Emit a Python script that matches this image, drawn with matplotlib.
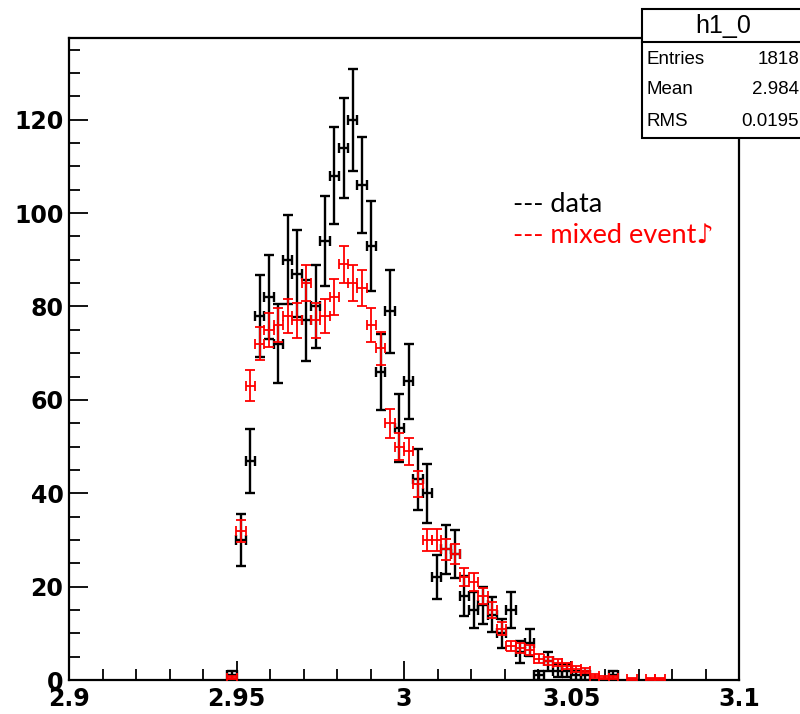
import matplotlib
matplotlib.use('Agg')
import matplotlib.pyplot as plt
import numpy as np
from matplotlib.patches import Rectangle
from matplotlib.lines import Line2D
from matplotlib.ticker import MultipleLocator

# histogram binning (72 bins on 2.9 - 3.1), first drawn bin is 17
x_lo, x_hi, nbins = 2.9, 3.1, 72
first_bin = 17

# data counts, bins 17..58
data_counts = [1, 30, 47, 78, 82, 72, 90, 87, 77, 80,
               94, 108, 114, 120, 106, 93, 66, 79, 54, 64,
               43, 40, 22, 28, 27, 18, 15, 16, 14, 10,
               15, 6, 8, 1, 4, 2, 2, 1, 1, 0,
               0, 1]

# mixed event (scaled), bins 17..63
mixed_vals = [0.5, 32, 63, 72, 75, 76, 78, 77, 85, 77,
              78, 82, 89, 85, 84, 76, 71, 55, 50, 49,
              42, 30, 30, 28, 27, 22, 21, 18, 15, 11,
              7.3, 6.8, 6.4, 4.6, 4.1, 3.7, 3.0, 2.4, 2.0, 0.9,
              0.5, 0.5, 0, 0.2, 0, 0.2, 0.2]
mixed_scale = 0.175

xtick_vals = [2.9, 2.95, 3.0, 3.05, 3.1]
xtick_labels = ['2.9', '2.95', '3', '3.05', '3.1']
ytick_vals = [0, 20, 40, 60, 80, 100, 120]

stats_title = 'h1_0'
stats_rows = [('Entries', '1818'), ('Mean', '2.984'), ('RMS', '0.0195')]

W, H = 800, 714
fig = plt.figure(figsize=(W/100, H/100), dpi=100)
ax = fig.add_axes([69/W, 1-680/H, (739-69)/W, (680-38)/H])

bw = (x_hi - x_lo) / nbins
def centers(n):
    idx = np.arange(first_bin, first_bin + n)
    return x_lo + (idx + 0.5) * bw

# data, black
xd = centers(len(data_counts))
yd = np.array(data_counts, dtype=float)
m = yd > 0
ax.errorbar(xd[m], yd[m], xerr=bw/2, yerr=np.sqrt(yd[m]), fmt='none',
            ecolor='black', elinewidth=1.7, capsize=3.3, capthick=1.7, zorder=3)

# mixed event, red
xm = centers(len(mixed_vals))
ym = np.array(mixed_vals, dtype=float)
m = ym > 0
ax.errorbar(xm[m], ym[m], xerr=bw/2, yerr=np.sqrt(ym[m]*mixed_scale), fmt='none',
            ecolor='red', elinewidth=1.3, capsize=3.3, capthick=1.3, zorder=4)

ax.set_xlim(x_lo, x_hi)
ax.set_ylim(0, 137.5)

ax.set_xticks(xtick_vals)
ax.set_xticklabels(xtick_labels)
ax.set_yticks(ytick_vals)
ax.xaxis.set_minor_locator(MultipleLocator(0.01))
ax.yaxis.set_minor_locator(MultipleLocator(5))
ax.tick_params(axis='both', which='major', direction='in', length=14, width=1.3,
               labelsize=17, pad=4)
ax.tick_params(axis='both', which='minor', direction='in', length=8, width=1.3)
ax.tick_params(top=False, right=False, which='both')
for lab in ax.get_xticklabels() + ax.get_yticklabels():
    lab.set_fontweight('bold')
    lab.set_family('DejaVu Sans')
ax.tick_params(axis='x', pad=5)
for sp in ax.spines.values():
    sp.set_linewidth(1.6)

# legend-like text
fam = ['Lato', 'DejaVu Sans']
ax.text(513/W, 1-212/H, '--- data', transform=fig.transFigure, color='black',
        fontsize=19.5, family=fam, va='baseline', ha='left')
ax.text(513/W, 1-243/H, '--- mixed event\u266a', transform=fig.transFigure, color='red',
        fontsize=19.5, family=fam, va='baseline', ha='left')

# stats box
bl, bt, br, bs, bb = 642, 9, 805, 42, 138
fig.add_artist(Rectangle((bl/W, 1-bb/H), (br-bl)/W, (bb-bt)/H, transform=fig.transFigure,
                         facecolor='white', edgecolor='black', linewidth=1.5, zorder=10))
fig.add_artist(Line2D([bl/W, br/W], [1-bs/H, 1-bs/H], transform=fig.transFigure,
                      color='black', linewidth=1.5, zorder=11))
fig.text(723/W, 1-26/H, stats_title, ha='center', va='center', fontsize=18,
         family='Liberation Sans', zorder=12)
row_y = [59, 89, 122]
for (name, val), yy in zip(stats_rows, row_y):
    fig.text(647/W, 1-yy/H, name, ha='left', va='center', fontsize=13.5,
             family='Liberation Sans', zorder=12)
    fig.text(799/W, 1-yy/H, val, ha='right', va='center', fontsize=13.5,
             family='Liberation Sans', zorder=12)

fig.savefig('out.png', dpi=100)
